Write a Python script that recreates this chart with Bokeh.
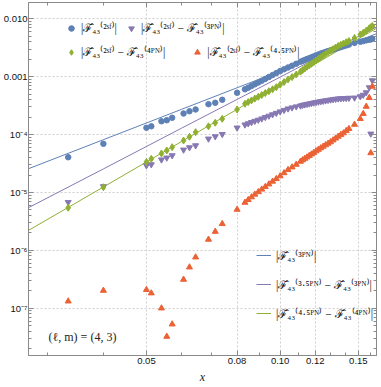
from bokeh.plotting import figure
from bokeh.models import Range1d, FixedTicker, Legend, LegendItem, Label, LogAxis
from bokeh.embed import file_html
from bokeh.resources import INLINE

# ---------------- data ----------------
x_vals = [0.03333, 0.04, 0.05, 0.05128, 0.05405, 0.05556, 0.05714, 0.06061, 0.0625, 0.06452,
          0.06897, 0.07143, 0.07407, 0.08,
          0.08333, 0.08475, 0.08621, 0.08772, 0.08929, 0.09091, 0.09259, 0.09434, 0.09615, 0.09804,
          0.1, 0.10204, 0.10417, 0.10638, 0.1087, 0.11111,
          0.11236, 0.11364, 0.11494, 0.11628, 0.11765, 0.11905, 0.12048, 0.12195, 0.12346, 0.125,
          0.12658, 0.12821, 0.12987, 0.13158, 0.13333, 0.13514, 0.13699, 0.13889, 0.14085, 0.14286,
          0.14706, 0.15152, 0.15385, 0.15625, 0.15873, 0.16, 0.16129]

f_2sf = [4.06e-5, 6.92e-5, 1.31e-4, 1.39e-4, 1.70e-4, 1.77e-4, 1.95e-4, 2.31e-4, 2.53e-4, 2.71e-4,
         3.35e-4, 3.54e-4, 3.99e-4, 5.27e-4,
         6.05e-4, 6.45e-4, 6.90e-4, 7.38e-4, 7.91e-4, 8.49e-4, 9.16e-4, 9.87e-4, 1.065e-3, 1.153e-3,
         1.248e-3, 1.341e-3, 1.441e-3, 1.548e-3, 1.670e-3, 1.808e-3,
         1.874e-3, 1.943e-3, 2.014e-3, 2.087e-3, 2.163e-3, 2.242e-3, 2.333e-3, 2.418e-3, 2.505e-3, 2.587e-3,
         2.68e-3, 2.77e-3, 2.85e-3, 2.95e-3, 3.04e-3, 3.14e-3, 3.24e-3, 3.35e-3, 3.47e-3, 3.58e-3,
         3.83e-3, 4.01e-3, 4.12e-3, 4.24e-3, 4.35e-3, 4.42e-3, 4.50e-3]

d_2sf_3pn = [6.78e-6, 1.27e-5, 2.92e-5, 3.04e-5, 3.68e-5, 3.97e-5, 4.35e-5, 5.45e-5, 5.98e-5, 6.47e-5,
             8.45e-5, 9.26e-5, 1.014e-4, 1.31e-4,
             1.48e-4, 1.55e-4, 1.63e-4, 1.71e-4, 1.79e-4, 1.88e-4, 1.99e-4, 2.10e-4, 2.22e-4, 2.35e-4,
             2.49e-4, 2.64e-4, 2.80e-4, 2.92e-4, 3.04e-4, 3.15e-4,
             3.23e-4, 3.29e-4, 3.36e-4, 3.41e-4, 3.48e-4, 3.55e-4, 3.62e-4, 3.68e-4, 3.74e-4, 3.80e-4,
             3.86e-4, 3.93e-4, 3.99e-4, 4.05e-4, 4.11e-4, 4.17e-4, 4.20e-4, 4.23e-4, 4.25e-4, 4.28e-4,
             4.32e-4, 4.55e-4, 4.83e-4, 5.33e-4, 6.50e-4, 1.03e-4, 8.59e-4]

d_2sf_4pn = [5.43e-6, 1.23e-5, 3.36e-5, 3.81e-5, 4.71e-5, 5.31e-5, 6.05e-5, 7.89e-5, 9.14e-5, 1.10e-4,
             1.39e-4, 1.60e-4, 1.87e-4, 2.71e-4,
             3.40e-4, 3.64e-4, 3.89e-4, 4.18e-4, 4.49e-4, 4.82e-4, 5.20e-4, 5.61e-4, 6.05e-4, 6.58e-4,
             7.27e-4, 8.06e-4, 8.94e-4, 9.83e-4, 1.09e-3, 1.22e-3,
             1.30e-3, 1.38e-3, 1.48e-3, 1.57e-3, 1.67e-3, 1.78e-3, 1.90e-3, 2.03e-3, 2.17e-3, 2.32e-3,
             2.48e-3, 2.65e-3, 2.81e-3, 2.99e-3, 3.19e-3, 3.39e-3, 3.56e-3, 3.74e-3, 3.93e-3, 4.13e-3,
             4.66e-3, 5.36e-3, 5.73e-3, 6.23e-3, 6.86e-3, 7.16e-3, 7.51e-3]

d_2sf_45pn = [1.32e-7, 2.02e-7, 2.08e-7, 1.82e-7, 1.0e-7, 3.24e-8, 5.29e-8, 3.13e-7, 5.11e-7, 7.61e-7,
              1.54e-6, 2.11e-6, 2.87e-6, 5.07e-6,
              6.70e-6, 7.46e-6, 8.31e-6, 9.25e-6, 1.02e-5, 1.13e-5, 1.25e-5, 1.39e-5, 1.55e-5, 1.72e-5,
              1.92e-5, 2.17e-5, 2.46e-5, 2.73e-5, 3.04e-5, 3.42e-5,
              3.63e-5, 3.84e-5, 4.06e-5, 4.30e-5, 4.56e-5, 4.86e-5, 5.18e-5, 5.50e-5, 5.84e-5, 6.22e-5,
              6.60e-5, 7.01e-5, 7.44e-5, 8.00e-5, 8.61e-5, 9.26e-5, 9.95e-5, 1.06e-4, 1.16e-4, 1.26e-4,
              1.49e-4, 1.87e-4, 2.29e-4, 3.05e-4, 4.32e-4, 4.80e-5, 6.77e-4]

line_x = [0.0271, 0.04, 0.06, 0.08, 0.10, 0.12, 0.14, 0.165]
pn_3 = [2.56e-5, 8.15e-5, 2.73e-4, 6.43e-4, 1.25e-3, 2.15e-3, 3.40e-3, 5.55e-3]
pn_35_minus_3 = [5.43e-6, 2.55e-5, 1.29e-4, 4.05e-4, 9.83e-4, 2.04e-3, 3.76e-3, 7.25e-3]
pn_45_minus_4 = [2.20e-6, 1.24e-5, 7.59e-5, 2.73e-4, 7.38e-4, 1.66e-3, 3.31e-3, 6.88e-3]

x_major = [0.05, 0.08, 0.10, 0.12, 0.15]
x_major_labels = ["0.05", "0.08", "0.10", "0.12", "0.15"]
x_minor = [0.03, 0.04, 0.06, 0.07, 0.09, 0.11, 0.13, 0.14, 0.16]
y_major = [1e-7, 1e-6, 1e-5, 1e-4, 1e-3, 1e-2]
y_major_labels = ["10⁻⁷", "10⁻⁶", "10⁻⁵", "10⁻⁴", "0.001", "0.010"]
y_minor = [k * 10.0 ** e for e in range(-8, -1) for k in range(2, 10)]

# ---------------- styling ----------------
BLUE, PURPLE, GREEN, RED = "#5E81B5", "#8778B3", "#8FB032", "#EB6235"
FRAME = "#8a8a8a"
TICK_FONT = "Liberation Sans"
MATH_FONT = "Liberation Serif"

p = figure(width=381, height=387, x_axis_type="log", y_axis_type="log",
           x_range=Range1d(0.02713, 0.1648), y_range=Range1d(1.524e-8, 0.01912),
           output_backend="svg", toolbar_location=None,
           min_border_left=25, min_border_right=5, min_border_top=2, min_border_bottom=32)
p.background_fill_color = "white"
p.border_fill_color = "white"
p.outline_line_color = FRAME

xt = FixedTicker(ticks=x_major, minor_ticks=x_minor)
yt = FixedTicker(ticks=y_major, minor_ticks=y_minor)


def style_ticks(ax):
    ax.axis_line_color = FRAME
    ax.major_tick_line_color = FRAME
    ax.minor_tick_line_color = FRAME
    ax.major_tick_in = 5
    ax.major_tick_out = 0
    ax.minor_tick_in = 3
    ax.minor_tick_out = 0


for ax in (p.xaxis[0], p.yaxis[0]):
    style_ticks(ax)
    ax.major_label_text_font = TICK_FONT
    ax.major_label_text_font_size = "9.5px"
    ax.major_label_text_color = "#111111"

p.xaxis[0].ticker = xt
p.yaxis[0].ticker = yt
p.xaxis[0].major_label_overrides = dict(zip(x_major, x_major_labels))
p.yaxis[0].major_label_overrides = dict(zip(y_major, y_major_labels))
p.xaxis[0].major_label_standoff = 2
p.yaxis[0].major_label_standoff = 1
p.xaxis[0].axis_label = "x"
p.xaxis[0].axis_label_text_font = "Liberation Serif"
p.xaxis[0].axis_label_text_font_style = "italic"
p.xaxis[0].axis_label_text_font_size = "12px"
p.xaxis[0].axis_label_text_color = "#222222"
p.xaxis[0].axis_label_standoff = 3

# mirrored frame ticks (no labels) on top and right
for loc, tk in (("above", xt), ("right", yt)):
    ax2 = LogAxis(ticker=tk)
    style_ticks(ax2)
    ax2.major_label_text_font_size = "1px"
    ax2.major_label_text_color = None
    ax2.major_label_standoff = 0
    p.add_layout(ax2, loc)

p.xgrid.ticker = FixedTicker(ticks=x_major)
p.ygrid.ticker = FixedTicker(ticks=y_major)
for g in (p.xgrid, p.ygrid):
    g.grid_line_color = "#cfcfcf"
    g.grid_line_dash = "2 2"
    g.grid_line_width = 1

# ---------------- PN lines ----------------
l1 = p.line(line_x, pn_3, line_color=BLUE, line_width=1)
l2 = p.line(line_x, pn_35_minus_3, line_color=PURPLE, line_width=1)
l3 = p.line(line_x, pn_45_minus_4, line_color=GREEN, line_width=1)

# ---------------- data points ----------------
r_blue = p.scatter(x_vals, f_2sf, marker="circle", size=5.5, fill_color=BLUE, line_color=BLUE)
r_purple = p.scatter(x_vals, d_2sf_3pn, marker="inverted_triangle", size=6, fill_color=PURPLE, line_color=PURPLE)
r_green = p.scatter(x_vals, d_2sf_4pn, marker="diamond", size=7, fill_color=GREEN, line_color=GREEN)
r_red = p.scatter(x_vals, d_2sf_45pn, marker="triangle", size=6, fill_color=RED, line_color=RED)

F = "ℱ\u0302"


def legend(items, loc, orientation, glyph_w, glyph_h, standoff, spacing):
    lg = Legend(items=items, location=loc, orientation=orientation,
                glyph_width=glyph_w, glyph_height=glyph_h, label_height=glyph_h,
                label_standoff=standoff, spacing=spacing, padding=0, margin=0,
                label_text_font=MATH_FONT, label_text_font_size="11.5px",
                label_text_color="#111111",
                border_line_alpha=0, background_fill_alpha=0)
    p.add_layout(lg)
    return lg


legend([LegendItem(label="|" + F + "₄₃⁽²ˢᶠ⁾|", renderers=[r_blue]),
        LegendItem(label="|" + F + "₄₃⁽²ˢᶠ⁾ − " + F + "₄₃⁽³ᴾᴺ⁾|", renderers=[r_purple])],
       (36, 320), "horizontal", 14, 14, 3, 7)
legend([LegendItem(label="|" + F + "₄₃⁽²ˢᶠ⁾ − " + F + "₄₃⁽⁴ᴾᴺ⁾|", renderers=[r_green]),
        LegendItem(label="|" + F + "₄₃⁽²ˢᶠ⁾ − " + F + "₄₃⁽⁴·⁵ᴾᴺ⁾|", renderers=[r_red])],
       (36, 296), "horizontal", 14, 14, 3, 25)
legend([LegendItem(label="|" + F + "₄₃⁽³ᴾᴺ⁾|", renderers=[l1]),
        LegendItem(label="|" + F + "₄₃⁽³·⁵ᴾᴺ⁾ − " + F + "₄₃⁽³ᴾᴺ⁾|", renderers=[l2]),
        LegendItem(label="|" + F + "₄₃⁽⁴·⁵ᴾᴺ⁾ − " + F + "₄₃⁽⁴ᴾᴺ⁾|", renderers=[l3])],
       (228, 32), "vertical", 15, 20, 5, 9)

p.add_layout(Label(x=0.0301, y=3.12e-8, text="(ℓ, m) = (4, 3)",
                   text_font="Liberation Serif", text_font_size="12px",
                   text_baseline="middle", text_color="#222222"))

open("out.html", "w").write(file_html(p, INLINE))
